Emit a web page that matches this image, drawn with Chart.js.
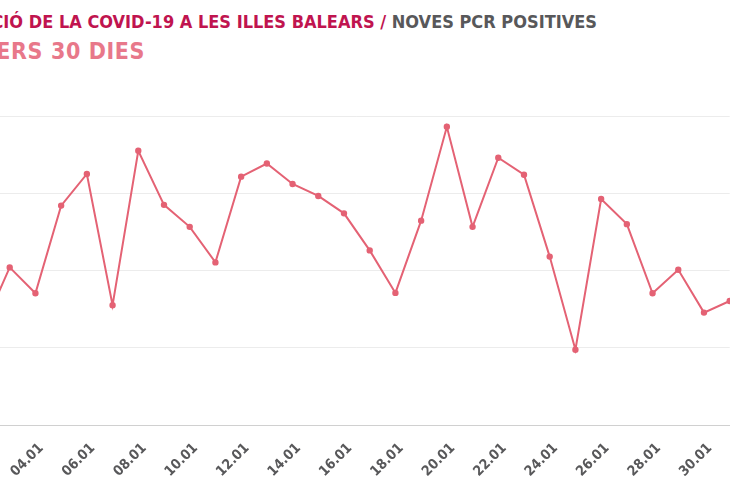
<!DOCTYPE html>
<html>
<head>
<meta charset="utf-8">
<script src="https://cdn.jsdelivr.net/npm/chart.js@4.4.1/dist/chart.umd.min.js"></script>
<style>
  html, body { margin: 0; padding: 0; background: #fff; }
  #frame { position: relative; width: 730px; height: 500px; overflow: hidden; }
  .ttl { position: absolute; white-space: nowrap; font-family: "Liberation Sans Narrow", "DejaVu Sans Condensed", sans-serif; font-weight: bold; }
  #t1 { top: 13px; right: 133px; font-size: 18px; line-height: 18px; color: #c0144f; }
  #t1 span { color: #58585a; }
  #t2 { top: 40px; right: 585px; font-size: 23px; line-height: 23px; letter-spacing: 0.6px; color: #e8788a; }
  #box { position: absolute; left: -66.4px; top: 110px; width: 805.7px; height: 375px; }
</style>
</head>
<body>
<div id="frame">
  <div class="ttl" id="t1">EVOLUCIÓ DE LA COVID-19 A LES ILLES BALEARS / <span>NOVES PCR POSITIVES</span></div>
  <div class="ttl" id="t2">ELS DARRERS 30 DIES</div>
  <div id="box"><canvas id="pcrChart"></canvas></div>
</div>
<script>
// --- DADES ---
const dies = ['02.01', '03.01', '04.01', '05.01', '06.01', '07.01', '08.01', '09.01', '10.01', '11.01',
              '12.01', '13.01', '14.01', '15.01', '16.01', '17.01', '18.01', '19.01', '20.01', '21.01',
              '22.01', '23.01', '24.01', '25.01', '26.01', '27.01', '28.01', '29.01', '30.01', '31.01'];
const pcrPositives = [257, 408, 341, 568, 650, 310, 710, 570, 513, 421,
                      643, 677, 624, 593, 548, 452, 342, 529, 772, 513,
                      692, 648, 436, 195, 585, 520, 341, 402, 291, 321];
const yTicks = [0, 200, 400, 600, 800];

const pcrCtx = document.getElementById('pcrChart').getContext('2d');
new Chart(pcrCtx, {
    type: 'line',
    data: {
        labels: dies,
        datasets: [{
            data: pcrPositives,
            borderColor: '#e46274',
            backgroundColor: '#e46274',
            borderWidth: 2,
            pointRadius: 2.2,
            pointHoverRadius: 4,
            tension: 0
        }]
    },
    options: {
        responsive: true,
        maintainAspectRatio: false,
        animation: false,
        layout: { padding: { top: 5, right: 10, bottom: 0, left: 0 } },
        plugins: { legend: { display: false }, tooltip: { enabled: false } },
        scales: {
            x: {
                grid: { display: false },
                border: { display: true, color: '#d0d0d0' },
                ticks: {
                    autoSkip: false,
                    minRotation: 45,
                    maxRotation: 45,
                    padding: 7,
                    labelOffset: 6,
                    color: '#58585a',
                    font: { family: '"Liberation Sans Narrow", "DejaVu Sans Condensed", sans-serif', size: 14, weight: 'bold' },
                    callback: (v, i) => (i % 2 === 0 ? dies[i] : '')
                },
                afterFit: scale => { scale.height = 60; scale.paddingLeft = 0; scale.paddingRight = 0; }
            },
            y: {
                min: yTicks[0],
                max: yTicks[yTicks.length - 1],
                afterBuildTicks: scale => { scale.ticks = yTicks.map(v => ({ value: v })); },
                grid: { color: '#ececec', drawTicks: false },
                border: { display: false },
                ticks: { color: '#58585a' },
                afterFit: scale => { scale.width = 50; scale.paddingTop = 0; scale.paddingBottom = 0; }
            }
        }
    }
});
</script>
</body>
</html>
